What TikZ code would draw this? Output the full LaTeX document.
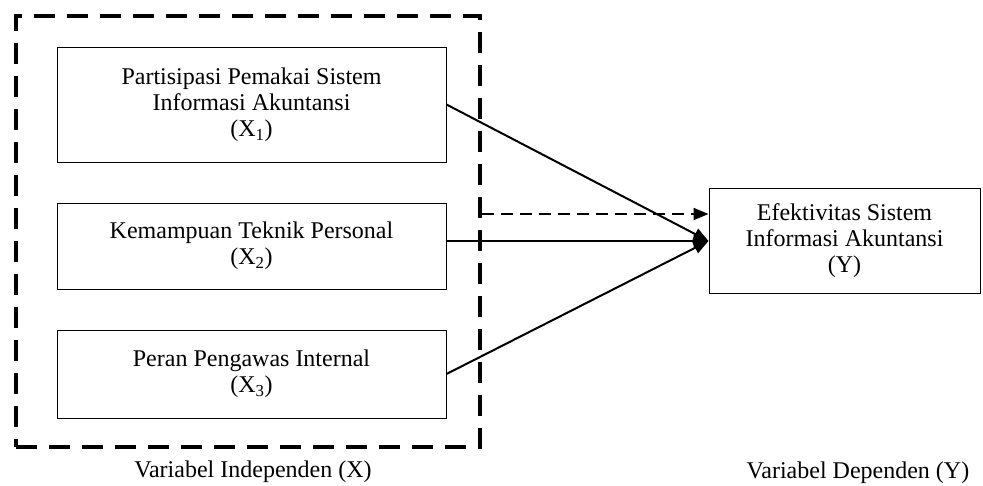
\documentclass[tikz,border=0pt]{standalone}
\usepackage{fontspec}
\setmainfont{Liberation Serif}
\usetikzlibrary{arrows.meta}

\begin{document}
\begin{tikzpicture}[x=1pt, y=-1pt, line width=1pt,
    varbox/.style={draw, align=center, inner sep=0pt, minimum width=389pt,
      font=\fontsize{24}{26}\selectfont},
    indepframe/.style={draw, line width=4.5pt, dash pattern=on 21pt off 12pt,
      inner sep=0pt, minimum width=464pt, minimum height=431pt},
    link/.style={line width=2pt, -{Triangle[length=15pt, width=12pt]}},
    dashlink/.style={link, dash pattern=on 12pt off 7pt},
    caption/.style={font=\fontsize{24}{26}\selectfont}]
    \useasboundingbox (0, 0) rectangle (983, 485);

    % draw frame of the independent variables
    \node[indepframe] (indep) at (248, 231.5) {};

    % draw variable boxes
    \node[varbox, minimum height=115pt] (x1) at (251.5, 104.5)
      {Partisipasi Pemakai Sistem\\Informasi Akuntansi\\(X\textsubscript{1})};
    \node[varbox, minimum height=86pt] (x2) at (251.5, 246)
      {Kemampuan Teknik Personal\\(X\textsubscript{2})};
    \node[varbox, minimum height=88pt] (x3) at (251.5, 374)
      {Peran Pengawas Internal\\(X\textsubscript{3})};
    \node[varbox, minimum width=271pt, minimum height=105pt] (y) at (844.5, 241)
      {Efektivitas Sistem\\Informasi Akuntansi\\(Y)};

    % draw arrows
    \draw[link] (x1.east) -- (y.west);
    \draw[link] (x2.east |- y.west) -- (y.west);
    \draw[link] (x3.east) -- (y.west);
    \coordinate (dlevel) at (0, 214);
    \draw[dashlink] (indep.east |- dlevel) -- (y.west |- dlevel);

    % draw captions
    \node[caption] (indeplabel) at (253, 472) {Variabel Independen (X)};
    \node[caption] (deplabel) at (858, 473) {Variabel Dependen (Y)};
\end{tikzpicture}
\end{document}
